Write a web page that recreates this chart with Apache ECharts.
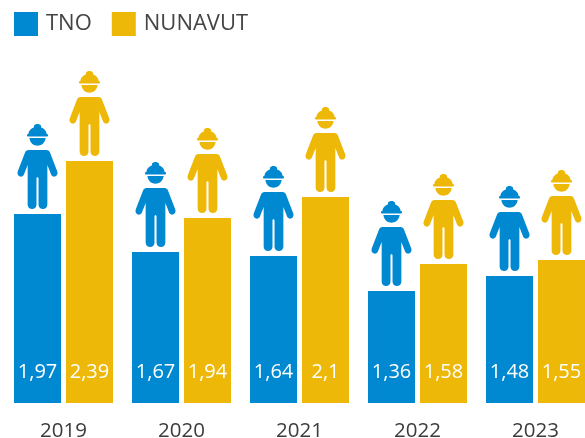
<!DOCTYPE html>
<html><head><meta charset="utf-8">
<style>html,body{margin:0;padding:0;background:#fff}#c{width:585px;height:438px}</style>
<script src="https://cdn.jsdelivr.net/npm/echarts@6/dist/echarts.min.js"></script>
</head><body><div id="c"></div>
<script>
const years = ['2019','2020','2021','2022','2023'];
// printed values
const tnoLabels = ['1,97','1,67','1,64','1,36','1,48'];
const nunavutLabels = ['2,39','1,94','2,1','1,58','1,55'];
// drawn bar heights (the source bars are not strictly proportional to the printed values)
const tnoBars = [1.89,1.51,1.47,1.12,1.27];
const nunavutBars = [2.42,1.85,2.06,1.39,1.43];

const BLUE='#0088d0', YELLOW='#eeb809', FONT='"Open Sans", sans-serif';
const worker='path://M29 36 C29 33 31 32 33 32 C34 23 40 16 49 13 L50 7 C54 1 66 1 70 7 L71 13 C80 16 86 23 87 32 C89 32 91 33 91 36 C91 39 89 40 87 40 L33 40 C31 40 29 39 29 36 Z '+
 'M36 44 L84 44 C82 60 70 67 60 67 C50 67 38 60 36 44 Z '+
 'M34 80 L86 80 C92 80 95 83 97 88 L118 143 C123 157 106 166 100 153 L89 125 L89 243 C89 260 63 260 63 243 L63 165 C63 160 57 160 57 165 L57 243 C57 260 31 260 31 243 L31 125 L20 153 C14 166 -3 157 2 143 L23 88 C25 83 28 80 34 80 Z';

const barBase={type:'bar',barWidth:47,barGap:'10.6%',animation:false,
  label:{show:true,position:'insideBottom',distance:21,color:'#fff',fontFamily:FONT,fontSize:20}};
const figBase={type:'pictorialBar',barWidth:47,barGap:'10.6%',animation:false,symbol:worker,symbolSize:[40,85],
  symbolPosition:'end',symbolOffset:[0,-90],symbolClip:false,z:5,silent:true,label:{show:false},legendHoverLink:false};

const chart=echarts.init(document.getElementById('c'),null,{renderer:'canvas'});
chart.setOption({
  animation:false,
  backgroundColor:'#fff',
  legend:{data:['TNO','NUNAVUT'],left:14,top:12,padding:0,itemWidth:24,itemHeight:24,itemGap:20,icon:'rect',
    textStyle:{color:'#444',fontFamily:FONT,fontSize:22,padding:[3,0,0,3]}},
  grid:{left:4.5,width:590,top:3,height:400,outerBoundsMode:'none',containLabel:false},
  xAxis:{type:'category',data:years,axisLine:{show:false},axisTick:{show:false},
    axisLabel:{color:'#3c3c3c',fontFamily:FONT,fontSize:20.5,margin:18}},
  yAxis:{type:'value',min:0,max:4,show:false,splitLine:{show:false}},
  series:[
    Object.assign({},barBase,{name:'TNO',data:tnoBars,itemStyle:{color:BLUE},
      label:Object.assign({},barBase.label,{formatter:p=>tnoLabels[p.dataIndex]})}),
    Object.assign({},barBase,{name:'NUNAVUT',data:nunavutBars,itemStyle:{color:YELLOW},
      label:Object.assign({},barBase.label,{formatter:p=>nunavutLabels[p.dataIndex]})}),
    Object.assign({},figBase,{name:'TNO figure',data:tnoBars,itemStyle:{color:BLUE}}),
    Object.assign({},figBase,{name:'NUNAVUT figure',data:nunavutBars,itemStyle:{color:YELLOW}})
  ]
});
</script></body></html>
